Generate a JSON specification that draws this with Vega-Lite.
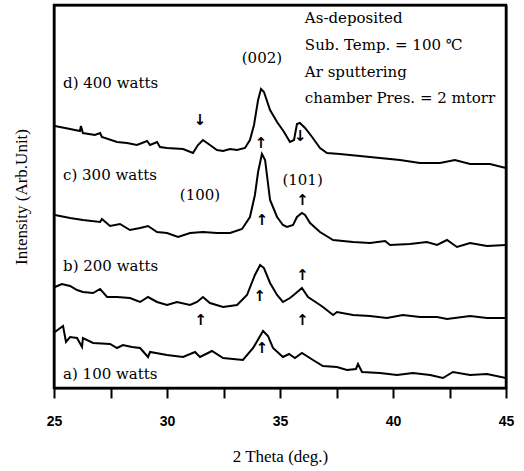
{
  "$schema": "https://vega.github.io/schema/vega-lite/v6.json",
  "width": 452,
  "height": 383,
  "autosize": "none",
  "padding": {"left": 54, "top": 5, "right": 18, "bottom": 83},
  "background": "white",
  "datasets": {
    "traces": [
      {"s":"d","t":25.04,"i":262},{"s":"d","t":25.71,"i":259},{"s":"d","t":26.15,"i":257},{"s":"d","t":26.19,"i":262},{"s":"d","t":26.28,"i":255},{"s":"d","t":26.81,"i":253},{"s":"d","t":27.04,"i":255},{"s":"d","t":27.12,"i":251},{"s":"d","t":27.79,"i":246},{"s":"d","t":28.23,"i":245},{"s":"d","t":28.67,"i":243},{"s":"d","t":29.12,"i":247},{"s":"d","t":29.25,"i":243},{"s":"d","t":29.56,"i":246},{"s":"d","t":29.69,"i":241},{"s":"d","t":30.0,"i":240},{"s":"d","t":30.71,"i":239},{"s":"d","t":31.15,"i":235},{"s":"d","t":31.37,"i":243},{"s":"d","t":31.59,"i":248},{"s":"d","t":31.9,"i":243},{"s":"d","t":32.21,"i":238},{"s":"d","t":32.48,"i":237},{"s":"d","t":32.79,"i":239},{"s":"d","t":33.1,"i":238},{"s":"d","t":33.45,"i":240},{"s":"d","t":33.67,"i":248},{"s":"d","t":33.85,"i":263},{"s":"d","t":34.03,"i":288},{"s":"d","t":34.16,"i":299},{"s":"d","t":34.29,"i":296},{"s":"d","t":34.56,"i":278},{"s":"d","t":34.87,"i":266},{"s":"d","t":35.18,"i":256},{"s":"d","t":35.44,"i":246},{"s":"d","t":35.62,"i":248},{"s":"d","t":35.75,"i":264},{"s":"d","t":35.88,"i":265},{"s":"d","t":36.11,"i":260},{"s":"d","t":36.42,"i":251},{"s":"d","t":36.77,"i":240},{"s":"d","t":37.08,"i":235},{"s":"d","t":37.65,"i":234},{"s":"d","t":38.54,"i":232},{"s":"d","t":39.42,"i":230},{"s":"d","t":40.31,"i":228},{"s":"d","t":41.19,"i":225},{"s":"d","t":42.08,"i":225},{"s":"d","t":42.74,"i":228},{"s":"d","t":43.41,"i":224},{"s":"d","t":44.29,"i":224},{"s":"d","t":45.0,"i":220},
      {"s":"c","t":25.04,"i":173},{"s":"c","t":25.71,"i":170},{"s":"c","t":26.28,"i":168},{"s":"c","t":27.04,"i":166},{"s":"c","t":27.12,"i":169},{"s":"c","t":27.48,"i":162},{"s":"c","t":27.92,"i":164},{"s":"c","t":28.36,"i":158},{"s":"c","t":28.81,"i":160},{"s":"c","t":29.16,"i":162},{"s":"c","t":29.56,"i":156},{"s":"c","t":30.0,"i":155},{"s":"c","t":30.49,"i":151},{"s":"c","t":31.02,"i":155},{"s":"c","t":31.59,"i":156},{"s":"c","t":32.21,"i":155},{"s":"c","t":32.79,"i":155},{"s":"c","t":33.32,"i":159},{"s":"c","t":33.67,"i":171},{"s":"c","t":33.89,"i":193},{"s":"c","t":34.03,"i":216},{"s":"c","t":34.2,"i":234},{"s":"c","t":34.34,"i":228},{"s":"c","t":34.56,"i":188},{"s":"c","t":34.87,"i":171},{"s":"c","t":35.13,"i":163},{"s":"c","t":35.31,"i":161},{"s":"c","t":35.58,"i":163},{"s":"c","t":35.75,"i":171},{"s":"c","t":35.97,"i":175},{"s":"c","t":36.11,"i":173},{"s":"c","t":36.33,"i":165},{"s":"c","t":36.77,"i":156},{"s":"c","t":37.35,"i":148},{"s":"c","t":38.23,"i":146},{"s":"c","t":38.98,"i":145},{"s":"c","t":39.65,"i":147},{"s":"c","t":39.87,"i":143},{"s":"c","t":40.75,"i":144},{"s":"c","t":41.5,"i":146},{"s":"c","t":41.95,"i":143},{"s":"c","t":42.39,"i":148},{"s":"c","t":42.83,"i":141},{"s":"c","t":43.41,"i":145},{"s":"c","t":44.16,"i":142},{"s":"c","t":45.0,"i":143},
      {"s":"b","t":25.04,"i":101},{"s":"b","t":25.35,"i":104},{"s":"b","t":25.71,"i":102},{"s":"b","t":26.02,"i":98},{"s":"b","t":26.28,"i":96},{"s":"b","t":26.73,"i":95},{"s":"b","t":27.04,"i":99},{"s":"b","t":27.35,"i":91},{"s":"b","t":27.79,"i":91},{"s":"b","t":28.36,"i":90},{"s":"b","t":28.81,"i":86},{"s":"b","t":29.16,"i":91},{"s":"b","t":29.56,"i":86},{"s":"b","t":30.0,"i":83},{"s":"b","t":30.44,"i":86},{"s":"b","t":31.02,"i":83},{"s":"b","t":31.33,"i":86},{"s":"b","t":31.59,"i":91},{"s":"b","t":31.9,"i":85},{"s":"b","t":32.48,"i":81},{"s":"b","t":33.1,"i":83},{"s":"b","t":33.54,"i":93},{"s":"b","t":33.89,"i":113},{"s":"b","t":34.12,"i":123},{"s":"b","t":34.29,"i":120},{"s":"b","t":34.56,"i":105},{"s":"b","t":34.87,"i":93},{"s":"b","t":35.13,"i":86},{"s":"b","t":35.44,"i":90},{"s":"b","t":35.66,"i":94},{"s":"b","t":35.97,"i":100},{"s":"b","t":36.24,"i":91},{"s":"b","t":36.64,"i":85},{"s":"b","t":36.9,"i":81},{"s":"b","t":37.35,"i":73},{"s":"b","t":37.52,"i":76},{"s":"b","t":38.23,"i":73},{"s":"b","t":38.98,"i":72},{"s":"b","t":39.73,"i":70},{"s":"b","t":40.44,"i":73},{"s":"b","t":41.19,"i":71},{"s":"b","t":41.95,"i":71},{"s":"b","t":42.39,"i":69},{"s":"b","t":43.41,"i":72},{"s":"b","t":44.16,"i":70},{"s":"b","t":45.0,"i":70},
      {"s":"a","t":25.04,"i":56},{"s":"a","t":25.4,"i":62},{"s":"a","t":25.53,"i":46},{"s":"a","t":25.71,"i":51},{"s":"a","t":26.02,"i":50},{"s":"a","t":26.24,"i":41},{"s":"a","t":26.28,"i":50},{"s":"a","t":26.73,"i":45},{"s":"a","t":27.48,"i":44},{"s":"a","t":27.79,"i":40},{"s":"a","t":28.05,"i":43},{"s":"a","t":28.45,"i":41},{"s":"a","t":28.81,"i":40},{"s":"a","t":29.16,"i":31},{"s":"a","t":29.25,"i":36},{"s":"a","t":30.0,"i":33},{"s":"a","t":30.71,"i":31},{"s":"a","t":31.24,"i":36},{"s":"a","t":31.46,"i":31},{"s":"a","t":31.99,"i":37},{"s":"a","t":32.48,"i":30},{"s":"a","t":33.36,"i":28},{"s":"a","t":33.81,"i":40},{"s":"a","t":34.25,"i":57},{"s":"a","t":34.47,"i":52},{"s":"a","t":34.69,"i":40},{"s":"a","t":35.13,"i":31},{"s":"a","t":35.4,"i":34},{"s":"a","t":35.66,"i":30},{"s":"a","t":35.97,"i":35},{"s":"a","t":36.46,"i":28},{"s":"a","t":36.9,"i":22},{"s":"a","t":37.52,"i":21},{"s":"a","t":37.96,"i":18},{"s":"a","t":38.36,"i":19},{"s":"a","t":38.45,"i":24},{"s":"a","t":38.63,"i":16},{"s":"a","t":39.42,"i":15},{"s":"a","t":40.18,"i":13},{"s":"a","t":40.88,"i":15},{"s":"a","t":41.64,"i":13},{"s":"a","t":42.21,"i":10},{"s":"a","t":42.65,"i":16},{"s":"a","t":43.41,"i":13},{"s":"a","t":44.16,"i":14},{"s":"a","t":45.0,"i":10}
    ],
    "labels": [
      {"t":36.1,"i":370,"txt":"As-deposited","al":"left"},
      {"t":36.1,"i":343,"txt":"Sub. Temp. = 100 ℃","al":"left"},
      {"t":36.1,"i":316,"txt":"Ar sputtering","al":"left"},
      {"t":36.1,"i":290,"txt":"chamber Pres. = 2 mtorr","al":"left"},
      {"t":34.2,"i":330,"txt":"(002)","al":"center"},
      {"t":25.4,"i":305,"txt":"d) 400 watts","al":"left"},
      {"t":25.4,"i":213,"txt":"c) 300 watts","al":"left"},
      {"t":31.46,"i":193,"txt":"(100)","al":"center"},
      {"t":36.0,"i":208,"txt":"(101)","al":"center"},
      {"t":25.4,"i":122,"txt":"b) 200 watts","al":"left"},
      {"t":25.4,"i":14,"txt":"a) 100 watts","al":"left"}
    ],
    "arrows": [
      {"t":31.46,"i":268,"g":"↓"},
      {"t":34.16,"i":245,"g":"↑"},
      {"t":35.9,"i":252,"g":"↓"},
      {"t":34.2,"i":168,"g":"↑"},
      {"t":36.0,"i":188,"g":"↑"},
      {"t":31.5,"i":68,"g":"↑"},
      {"t":34.1,"i":92,"g":"↑"},
      {"t":36.0,"i":113,"g":"↑"},
      {"t":34.2,"i":40,"g":"↑"},
      {"t":36.0,"i":68,"g":"↑"}
    ],
    "box": [
      {"t":25,"t2":45,"i":0,"i2":383}
    ]
  },
  "resolve": {"axis": {"x": "independent", "y": "independent"}},
  "layer": [
    {
      "data": {"name": "traces"},
      "mark": {"type": "line", "color": "black", "strokeWidth": 2, "clip": true},
      "encoding": {
        "x": {"field": "t", "type": "quantitative", "scale": {"domain": [25, 45], "nice": false},
          "axis": {"orient": "bottom", "values": [25, 27.5, 30, 32.5, 35, 37.5, 40, 42.5, 45], "labelExpr": "datum.value % 5 == 0 ? datum.label : ''", "labelFlush": false,
            "tickColor": "black", "tickSize": 10, "tickWidth": 2, "domain": true, "domainColor": "black", "domainWidth": 2, "grid": false,
            "labelFont": "Liberation Sans", "labelFontWeight": "bold", "labelFontSize": 14, "labelColor": "black", "labelPadding": 16,
            "title": "2 Theta (deg.)", "titleFont": "Liberation Serif", "titleFontWeight": "normal", "titleFontSize": 17, "titleColor": "black", "titlePadding": 20}},
        "y": {"field": "i", "type": "quantitative", "scale": {"domain": [0, 383], "nice": false},
          "axis": {"orient": "left", "ticks": false, "labels": false, "domain": true, "domainColor": "black", "domainWidth": 2, "grid": false,
            "title": "Intensity (Arb.Unit)", "titleFont": "Liberation Serif", "titleFontWeight": "normal", "titleFontSize": 17, "titleColor": "black", "titlePadding": 24}},
        "detail": {"field": "s"},
        "order": {"field": "t", "type": "quantitative"}
      }
    },
    {
      "data": {"name": "box"},
      "mark": {"type": "rect", "fill": null, "fillOpacity": 0, "stroke": "#000000", "strokeWidth": 2.5, "strokeOpacity": 1},
      "encoding": {
        "x": {"field": "t", "type": "quantitative", "axis": {"orient": "top", "ticks": false, "labels": false, "grid": false, "title": null, "domain": true, "domainColor": "black", "domainWidth": 2}},
        "x2": {"field": "t2"},
        "y": {"field": "i", "type": "quantitative", "axis": {"orient": "right", "ticks": false, "labels": false, "grid": false, "title": null, "domain": true, "domainColor": "black", "domainWidth": 2}},
        "y2": {"field": "i2"}
      }
    },
    {
      "data": {"name": "labels"},
      "transform": [{"filter": "datum.al == 'left'"}],
      "mark": {"type": "text", "font": "DejaVu Serif", "fontSize": 15, "color": "black", "baseline": "middle", "align": "left"},
      "encoding": {
        "x": {"field": "t", "type": "quantitative", "axis": null},
        "y": {"field": "i", "type": "quantitative", "axis": null},
        "text": {"field": "txt"}
      }
    },
    {
      "data": {"name": "labels"},
      "transform": [{"filter": "datum.al == 'center'"}],
      "mark": {"type": "text", "font": "DejaVu Serif", "fontSize": 15, "color": "black", "baseline": "middle", "align": "center"},
      "encoding": {
        "x": {"field": "t", "type": "quantitative", "axis": null},
        "y": {"field": "i", "type": "quantitative", "axis": null},
        "text": {"field": "txt"}
      }
    },
    {
      "data": {"name": "arrows"},
      "mark": {"type": "text", "font": "DejaVu Sans", "fontSize": 15, "fontWeight": "bold", "color": "black", "baseline": "middle", "align": "center"},
      "encoding": {
        "x": {"field": "t", "type": "quantitative", "axis": null},
        "y": {"field": "i", "type": "quantitative", "axis": null},
        "text": {"field": "g"}
      }
    }
  ]
}
